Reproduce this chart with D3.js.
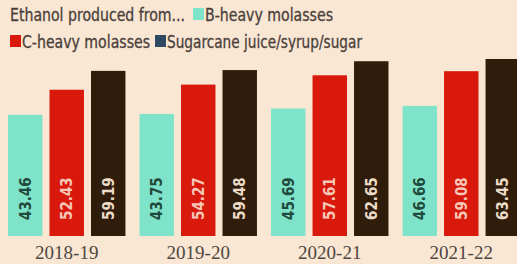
<!DOCTYPE html>
<html><head><meta charset="utf-8">
<script src="https://cdn.jsdelivr.net/npm/d3@7"></script>
<style>
html,body{margin:0;padding:0;background:#f9e6d3;}
svg{display:block;}
</style></head>
<body>
<svg id="chart" width="517" height="264"></svg>
<script>
const years = ["2018-19","2019-20","2020-21","2021-22"];
const seriesNames = ["B-heavy molasses","C-heavy molasses","Sugarcane juice/syrup/sugar"];
const bHeavy = [43.46, 43.75, 45.69, 46.66];
const cHeavy = [52.43, 54.27, 57.61, 59.08];
const sugarcane = [59.19, 59.48, 62.65, 63.45];
const barColors = ["#7fe3c9","#d8190b","#2f1c0b"];
const legendColors = ["#7fe3c9","#d8190b","#2e4a60"];
const labelColors = ["#1f4a3c","#f7c8b8","#ecdcc8"];

const seriesVals = [bHeavy, cHeavy, sugarcane];
const svg = d3.select("#chart");
const W = 517, H = 264;
svg.append("rect").attr("width",W).attr("height",H).attr("fill","#f9e6d3");

const x0 = d3.scaleBand().domain(years).range([8, 520]).paddingInner(0.107).paddingOuter(0);
const x1 = d3.scaleBand().domain([0,1,2]).range([0, x0.bandwidth()]).paddingInner(0.17).paddingOuter(0);
const y = d3.scaleLinear().domain([0, 63.45]).range([236, 59]);

const font = "'DejaVu Sans Condensed','Liberation Sans Narrow',sans-serif";

const groups = svg.append("g").selectAll("g").data(years).join("g")
  .attr("transform", d => `translate(${x0(d)},0)`);

groups.each(function(yr, i){
  const g = d3.select(this);
  seriesVals.forEach((vals, s) => {
    const v = vals[i];
    g.append("rect")
      .attr("x", x1(s)).attr("width", x1.bandwidth())
      .attr("y", y(v)).attr("height", y(0) - y(v))
      .attr("fill", barColors[s]);
    const cx = x1(s) + x1.bandwidth()/2;
    g.append("text")
      .attr("transform", `translate(${cx + 5.5},${y(0) - 16}) rotate(-90)`)
      .attr("font-family", font).attr("font-weight", "bold")
      .attr("font-size", 15).attr("fill", labelColors[s])
      .text(v.toFixed(2));
  });
});

// x axis labels
const xAxis = d3.axisBottom(x0).tickSize(0).tickPadding(0);
const ax = svg.append("g").attr("transform","translate(0,245)").call(xAxis);
ax.select(".domain").remove();
ax.selectAll("text").attr("font-family","'Liberation Serif','DejaVu Serif',serif")
  .attr("font-size",19).attr("fill","#4e4742").attr("dy","0.75em");

// legend
const lg = svg.append("g").attr("font-family", font).attr("font-size", 18)
  .attr("fill","#4a403a").attr("stroke","#4a403a").attr("stroke-width",0.3);
lg.append("text").attr("x",10).attr("y",21).attr("textLength",175).attr("lengthAdjust","spacingAndGlyphs")
  .text("Ethanol produced from...");
const items = [
  {s:0, x:193, y:21, w:128},
  {s:1, x:10, y:48, w:128},
  {s:2, x:155, y:48, w:195}
];
items.forEach(it => {
  lg.append("rect").attr("x", it.x).attr("y", it.y - 13).attr("width", 11).attr("height", 12)
    .attr("fill", legendColors[it.s]).attr("stroke","none");
  lg.append("text").attr("x", it.x + 12).attr("y", it.y)
    .attr("textLength", it.w).attr("lengthAdjust","spacingAndGlyphs")
    .text(seriesNames[it.s]);
});
</script>
</body></html>
